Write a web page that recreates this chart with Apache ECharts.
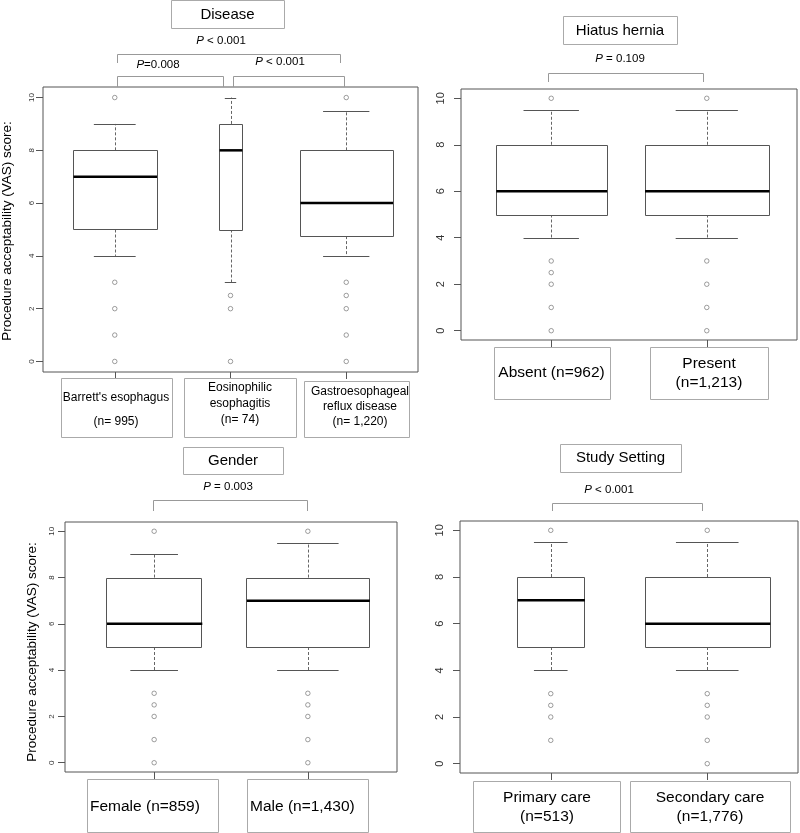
<!DOCTYPE html>
<html>
<head>
<meta charset="utf-8">
<script src="https://cdn.jsdelivr.net/npm/echarts@6/dist/echarts.min.js"></script>
<style>html,body{margin:0;padding:0;background:#fff}#c{width:800px;height:833px}</style>
</head>
<body>
<div id="c"></div>
<script>
// ---------- data ----------
const yTicks = [0, 2, 4, 6, 8, 10];

const diseaseCats = ["Barrett's esophagus\n(n= 995)", "Eosinophilic\nesophagitis\n(n= 74)", "Gastroesophageal\nreflux disease\n(n= 1,220)"];
const diseaseN = [995, 74, 1220];
const diseaseStats = [[4, 5, 7, 8, 9], [3, 5, 8, 9, 10], [4, 4.75, 6, 8, 9.5]];
const diseaseOut = [[10, 3, 2, 1, 0], [2.5, 2, 0], [10, 3, 2.5, 2, 1, 0]];

const herniaCats = ["Absent (n=962)", "Present\n(n=1,213)"];
const herniaN = [962, 1213];
const herniaStats = [[4, 5, 6, 8, 9.5], [4, 5, 6, 8, 9.5]];
const herniaOut = [[10, 3, 2.5, 2, 1, 0], [10, 3, 2, 1, 0]];

const genderCats = ["Female (n=859)", "Male (n=1,430)"];
const genderN = [859, 1430];
const genderStats = [[4, 5, 6, 8, 9], [4, 5, 7, 8, 9.5]];
const genderOut = [[10, 3, 2.5, 2, 1, 0], [10, 3, 2.5, 2, 1, 0]];

const settingCats = ["Primary care\n(n=513)", "Secondary care\n(n=1,776)"];
const settingN = [513, 1776];
const settingStats = [[4, 5, 7, 8, 9.5], [4, 5, 6, 8, 9.5]];
const settingOut = [[10, 3, 2.5, 2, 1], [10, 3, 2.5, 2, 1, 0]];

const titles = ["Disease", "Hiatus hernia", "Gender", "Study Setting"];
const yTitle = "Procedure acceptability (VAS) score:";

// ---------- layout ----------
const FONT = "'Liberation Sans', Arial, sans-serif";
const LINE = '#555';
const panels = [
  { stats: diseaseStats, n: diseaseN, out: diseaseOut, cats: diseaseCats,
    grid: { left: 43, top: 87, width: 375, height: 285 }, tickFont: 8, tickMargin: 7.5 },
  { stats: herniaStats, n: herniaN, out: herniaOut, cats: herniaCats,
    grid: { left: 461, top: 89, width: 336, height: 251 }, tickFont: 11, tickMargin: 15 },
  { stats: genderStats, n: genderN, out: genderOut, cats: genderCats,
    grid: { left: 65, top: 522, width: 332, height: 250 }, tickFont: 8, tickMargin: 9.5 },
  { stats: settingStats, n: settingN, out: settingOut, cats: settingCats,
    grid: { left: 460, top: 521, width: 338, height: 252 }, tickFont: 11, tickMargin: 15 }
];

const grids = [], xAxes = [], yAxes = [], series = [];
panels.forEach((p, i) => {
  const k = p.stats.length;
  const ext = 0.04 * k;
  grids.push(Object.assign({ show: true, borderColor: LINE, borderWidth: 1, backgroundColor: 'transparent' }, p.grid));
  const pos = p.stats.map((_, j) => j + 1);
  xAxes.push({
    type: 'value', gridIndex: i, min: 0.5 - ext, max: k + 0.5 + ext, position: 'bottom',
    axisLine: { show: false, onZero: false }, splitLine: { show: false }, axisLabel: { show: false },
    axisTick: { show: true, customValues: pos, length: 7, lineStyle: { color: LINE } }
  });
  yAxes.push({
    type: 'value', gridIndex: i, min: -0.4, max: 10.4, position: 'left',
    axisLine: { show: false, onZero: false }, splitLine: { show: false },
    axisTick: { show: true, customValues: yTicks, length: 7, lineStyle: { color: LINE } },
    axisLabel: { customValues: yTicks, rotate: 90, fontSize: p.tickFont, color: '#333', fontFamily: FONT, margin: p.tickMargin }
  });
  const maxS = Math.max(...p.n.map(Math.sqrt));
  const boxData = p.stats.map((s, j) => [j + 1, s[0], s[1], s[2], s[3], s[4], 0.4 * Math.sqrt(p.n[j]) / maxS]);
  series.push({
    type: 'custom', xAxisIndex: i, yAxisIndex: i, data: boxData, clip: false,
    renderItem: function (params, api) {
      const x = api.value(0), lo = api.value(1), q1 = api.value(2), md = api.value(3), q3 = api.value(4), hi = api.value(5), hw = api.value(6);
      const pL = api.coord([x - hw, q3]), pR = api.coord([x + hw, q1]);
      const c = api.coord([x, md]);
      const yLo = api.coord([x, lo])[1], yHi = api.coord([x, hi])[1], yQ1 = pR[1], yQ3 = pL[1];
      const cL = api.coord([x - hw / 2, lo])[0], cR = api.coord([x + hw / 2, lo])[0];
      const cx = Math.round(c[0]) + 0.5;
      const thin = { stroke: LINE, lineWidth: 1, fill: null };
      const dash = { stroke: '#666', lineWidth: 1, lineDash: [3, 2], fill: null };
      return { type: 'group', children: [
        { type: 'line', shape: { x1: cx, y1: yQ3, x2: cx, y2: yHi }, style: dash },
        { type: 'line', shape: { x1: cx, y1: yQ1, x2: cx, y2: yLo }, style: dash },
        { type: 'line', shape: { x1: cL, y1: Math.round(yHi) + 0.5, x2: cR, y2: Math.round(yHi) + 0.5 }, style: thin },
        { type: 'line', shape: { x1: cL, y1: Math.round(yLo) + 0.5, x2: cR, y2: Math.round(yLo) + 0.5 }, style: thin },
        { type: 'rect', shape: { x: Math.round(pL[0]) + 0.5, y: Math.round(yQ3) + 0.5, width: Math.round(pR[0] - pL[0]), height: Math.round(yQ1 - yQ3) }, style: { stroke: LINE, lineWidth: 1, fill: '#fff' } },
        { type: 'line', shape: { x1: pL[0] + 0.5, y1: c[1], x2: pR[0] + 0.5, y2: c[1] }, style: { stroke: '#000', lineWidth: 2.5 } }
      ] };
    }
  });
  const outData = [];
  p.out.forEach((arr, j) => arr.forEach(v => outData.push([j + 1, v])));
  series.push({
    type: 'scatter', xAxisIndex: i, yAxisIndex: i, data: outData,
    symbol: 'circle', symbolSize: 4.5,
    itemStyle: { color: '#fff', borderColor: '#666', borderWidth: 0.8 }, z: 5, silent: true
  });
});

// ---------- annotations ----------
const G = [];
function boxText(x, y, w, h, text, tx, ty, fs, lh, align) {
  G.push({ type: 'rect', shape: { x: x + 0.5, y: y + 0.5, width: w, height: h }, style: { fill: '#fff', stroke: '#aaa', lineWidth: 1 }, z: 10 });
  G.push({ type: 'text', x: tx, y: ty, style: { text: text, font: fs + 'px ' + FONT, fill: '#000', align: align || 'center', verticalAlign: 'middle', lineHeight: lh || fs * 1.2 }, z: 11 });
}
function pText(x, y, rest) {
  G.push({ type: 'text', x: x, y: y, style: { text: '{i|P}' + rest, font: '11.5px ' + FONT, fill: '#000', align: 'center', verticalAlign: 'middle',
    rich: { i: { fontStyle: 'italic', fontSize: 11.5, fontFamily: FONT } } }, z: 11 });
}
function bracket(x1, x2, yTop, yLeg) {
  G.push({ type: 'polyline', shape: { points: [[x1 + 0.5, yLeg], [x1 + 0.5, yTop + 0.5], [x2 + 0.5, yTop + 0.5], [x2 + 0.5, yLeg]] }, style: { stroke: '#999', lineWidth: 1, fill: null }, z: 10 });
}
// titles
boxText(171, 0, 113, 28, titles[0], 227.5, 15, 15);
boxText(563, 16, 114, 28, titles[1], 620, 30.5, 15);
boxText(183, 447, 100, 27, titles[2], 233, 461, 15);
boxText(560, 444, 121, 28, titles[3], 620.5, 458, 15);
// category labels
boxText(61, 378, 111, 59, diseaseCats[0], 116, 410, 12, 24);
boxText(184, 378, 112, 59, diseaseCats[1], 240, 404, 12, 16);
boxText(304, 381, 105, 56, diseaseCats[2], 360, 406.5, 12, 15);
boxText(494, 347, 116, 52, herniaCats[0], 551.5, 373, 15.5);
boxText(650, 347, 118, 52, herniaCats[1], 709, 373.5, 15.5, 19);
boxText(87, 779, 131, 53, genderCats[0], 90, 807, 15.5, 19, 'left');
boxText(247, 779, 121, 53, genderCats[1], 250, 807, 15.5, 19, 'left');
boxText(473, 781, 147, 51, settingCats[0], 547, 807.5, 15.5, 19);
boxText(630, 781, 160, 51, settingCats[1], 710, 807.5, 15.5, 19);
// p-values and brackets
pText(221, 41, ' < 0.001');
pText(158, 65, '=0.008');
pText(280, 62, ' < 0.001');
bracket(117, 340, 54, 63);
bracket(117, 223, 76, 87);
bracket(233, 344, 76, 87);
pText(620, 59, ' = 0.109');
bracket(548, 703, 73, 82);
pText(228, 487, ' = 0.003');
bracket(153, 307, 500, 511);
pText(609, 490, ' < 0.001');
bracket(552, 702, 503, 511);
// y titles
G.push({ type: 'text', x: 7, y: 231, rotation: Math.PI / 2, style: { text: yTitle, font: '13.5px ' + FONT, fill: '#000', align: 'center', verticalAlign: 'middle' }, z: 11 });
G.push({ type: 'text', x: 32, y: 652, rotation: Math.PI / 2, style: { text: yTitle, font: '13.5px ' + FONT, fill: '#000', align: 'center', verticalAlign: 'middle' }, z: 11 });

const chart = echarts.init(document.getElementById('c'), null, { renderer: 'canvas' });
chart.setOption({
  animation: false,
  backgroundColor: '#fff',
  textStyle: { fontFamily: FONT },
  grid: grids, xAxis: xAxes, yAxis: yAxes, series: series,
  graphic: G
});
</script>
</body>
</html>
